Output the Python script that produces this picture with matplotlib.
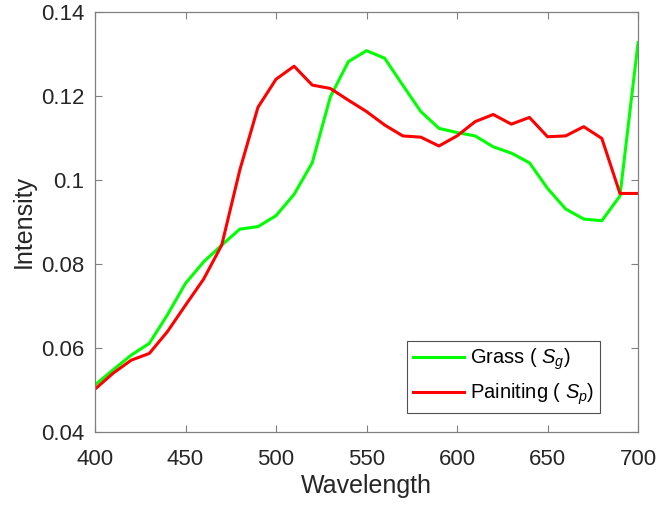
import matplotlib
matplotlib.use("Agg")
import matplotlib.pyplot as plt

wavelength = list(range(400, 701, 10))

grass = [0.0512, 0.0548, 0.0583, 0.0611, 0.0679, 0.0754, 0.0805, 0.0845,
         0.0883, 0.0889, 0.0915, 0.0966, 0.1041, 0.1198, 0.1282, 0.1308,
         0.1290, 0.1226, 0.1163, 0.1123, 0.1113, 0.1105, 0.1079, 0.1064,
         0.1041, 0.0980, 0.0931, 0.0907, 0.0903, 0.0962, 0.1327]

painting = [0.0502, 0.0540, 0.0571, 0.0587, 0.0639, 0.0702, 0.0764, 0.0845,
            0.1024, 0.1173, 0.1240, 0.1271, 0.1226, 0.1218, 0.1190, 0.1163,
            0.1131, 0.1105, 0.1102, 0.1081, 0.1105, 0.1139, 0.1156, 0.1133,
            0.1149, 0.1103, 0.1105, 0.1127, 0.1099, 0.0968, 0.0968]

xticks = [400, 450, 500, 550, 600, 650, 700]
yticks = [0.04, 0.06, 0.08, 0.1, 0.12, 0.14]
ytick_labels = ["0.04", "0.06", "0.08", "0.1", "0.12", "0.14"]

plt.rcParams['font.family'] = ['Liberation Sans', 'DejaVu Sans']
plt.rcParams['mathtext.fontset'] = 'custom'
plt.rcParams['mathtext.rm'] = 'Liberation Sans'
plt.rcParams['mathtext.it'] = 'Liberation Sans:italic'

text_color = "#262626"
axis_color = "#808080"

fig = plt.figure(figsize=(6.59, 5.05), dpi=100)
ax = fig.add_axes([0.1442, 0.1446, 0.824, 0.8316])

ax.plot(wavelength, grass, color=(0, 1, 0), lw=2.2, label=r"Grass ( $S_g$)")
ax.plot(wavelength, painting, color=(1, 0, 0), lw=2.2, label=r"Painiting ( $S_p$)")

ax.set_xlim(400, 700)
ax.set_ylim(0.04, 0.14)
ax.set_xticks(xticks)
ax.set_yticks(yticks)
ax.set_yticklabels(ytick_labels)
ax.tick_params(direction="in", top=True, right=True, length=5, width=0.8,
               color=axis_color, labelcolor=text_color, labelsize=16)
ax.tick_params(axis="x", pad=12)
ax.tick_params(axis="y", pad=7.5)
for s in ax.spines.values():
    s.set_color(axis_color)
    s.set_linewidth(0.9)

ax.set_xlabel("Wavelength", fontsize=18, color=text_color, labelpad=3)
ax.set_ylabel("Intensity", fontsize=18, color=text_color, labelpad=4)

leg = ax.legend(loc="lower right", bbox_to_anchor=(0.93, 0.045), fontsize=14.5,
                frameon=True, fancybox=False, edgecolor=text_color,
                handlelength=2.5, handletextpad=0.3, borderpad=0.3,
                labelspacing=0.45, borderaxespad=0)
leg.get_frame().set_linewidth(0.8)
for t in leg.get_texts():
    t.set_color("black")

fig.savefig("out.png", dpi=100)
